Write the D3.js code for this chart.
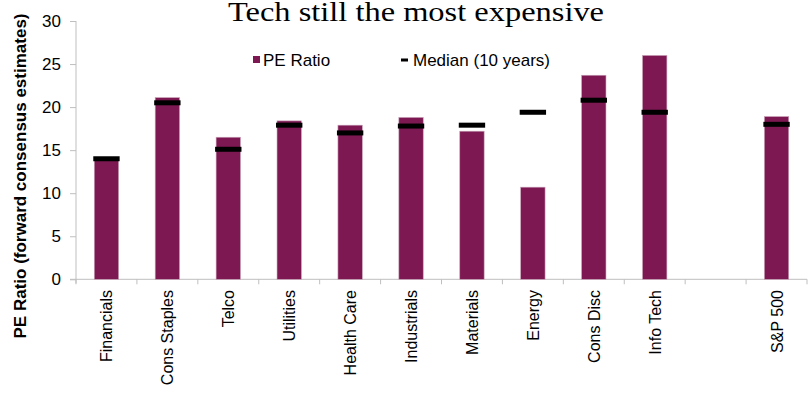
<!DOCTYPE html>
<html>
<head>
<meta charset="utf-8">
<script src="https://cdn.jsdelivr.net/npm/d3@7"></script>
<style>
  html, body { margin: 0; padding: 0; background: #fff; }
  svg { display: block; }
  text { font-family: "Liberation Sans", Arial, sans-serif; fill: #000; }
</style>
</head>
<body>
<svg id="chart" width="812" height="393"></svg>
<script>
// Sectors (one empty slot separates the index from the sectors)
const categories = ["Financials", "Cons Staples", "Telco", "Utilities", "Health Care",
  "Industrials", "Materials", "Energy", "Cons Disc", "Info Tech", "", "S&P 500"];
// Forward PE ratio
const peRatio = [13.8, 21.1, 16.5, 18.4, 17.9, 18.8, 17.2, 10.7, 23.7, 26.0, null, 18.9];
// 10-year median PE
const median10y = [14.0, 20.5, 15.1, 17.9, 17.0, 17.8, 17.9, 19.4, 20.8, 19.4, null, 18.0];
const yTicks = [0, 5, 10, 15, 20, 25, 30];

const title = "Tech still the most expensive";
const yLabel = "PE Ratio (forward consensus estimates)";
const legendLabels = ["PE Ratio", "Median (10 years)"];

const barColor = "#7E1852";
const axisColor = "#BFBFBF";

const svg = d3.select("#chart");
const plotLeft = 76, plotRight = 807, plotTop = 21, plotBottom = 279.3;

const keys = categories.map((c, i) => i);
const x = d3.scaleBand().domain(keys).range([plotLeft, plotRight])
  .paddingInner(0.6).paddingOuter(0.3);
const y = d3.scaleLinear().domain([0, 30]).range([plotBottom, plotTop]);

// Title
svg.append("text")
  .attr("x", 416).attr("y", 21)
  .attr("text-anchor", "middle")
  .attr("textLength", 376).attr("lengthAdjust", "spacingAndGlyphs")
  .style("font-family", "'Liberation Serif', 'DejaVu Serif', serif")
  .style("font-size", "27px")
  .text(title);

// Y axis
const yAxis = svg.append("g").attr("transform", `translate(${plotLeft},0)`)
  .call(d3.axisLeft(y).tickValues(yTicks).tickSize(6).tickPadding(9).tickSizeOuter(0));
yAxis.select(".domain").remove();
yAxis.selectAll(".tick line").attr("stroke", axisColor);
yAxis.selectAll(".tick text").style("font-size", "17px")
  .style("font-family", "'Liberation Sans', Arial, sans-serif").attr("fill", "#000");
svg.append("line")
  .attr("x1", plotLeft).attr("x2", plotLeft)
  .attr("y1", y(30)).attr("y2", plotBottom + 4)
  .attr("stroke", axisColor);

// X axis line and slot boundary ticks
svg.append("line")
  .attr("x1", plotLeft - 6).attr("x2", plotRight)
  .attr("y1", plotBottom).attr("y2", plotBottom)
  .attr("stroke", axisColor);
const step = x.step();
const bounds = keys.map(k => x(k) - step * x.paddingOuter()).concat([plotRight]);
svg.append("g").selectAll("line").data(bounds).join("line")
  .attr("x1", d => d).attr("x2", d => d)
  .attr("y1", plotBottom).attr("y2", plotBottom + 5)
  .attr("stroke", axisColor);

// Bars
svg.append("g").selectAll("rect")
  .data(keys.filter(k => peRatio[k] != null)).join("rect")
  .attr("x", k => x(k))
  .attr("y", k => y(peRatio[k]))
  .attr("width", x.bandwidth())
  .attr("height", k => y(0) - y(peRatio[k]))
  .attr("fill", barColor)
  .attr("stroke", "#C8A2B8").attr("stroke-width", 0.6);

// Median markers
const medH = 5;
svg.append("g").selectAll("rect")
  .data(keys.filter(k => median10y[k] != null)).join("rect")
  .attr("x", k => x(k) - 1)
  .attr("y", k => y(median10y[k]) - medH / 2)
  .attr("width", x.bandwidth() + 2)
  .attr("height", medH)
  .attr("fill", "#000");

// Category labels
svg.append("g").selectAll("text")
  .data(keys).join("text")
  .attr("transform", k => `translate(${x(k) + x.bandwidth() / 2 + 6},290) rotate(-90)`)
  .attr("text-anchor", "end")
  .style("font-size", "16px")
  .text(k => categories[k]);

// Y axis title
svg.append("text")
  .attr("transform", "translate(26,176) rotate(-90)")
  .attr("text-anchor", "middle")
  .style("font-size", "17px").style("font-weight", "bold")
  .text(yLabel);

// Legend
const lg = svg.append("g");
lg.append("rect").attr("x", 253).attr("y", 56).attr("width", 7).attr("height", 7).attr("fill", barColor);
lg.append("text").attr("x", 263).attr("y", 66).style("font-size", "17px").text(legendLabels[0]);
lg.append("rect").attr("x", 401).attr("y", 58.5).attr("width", 7).attr("height", 3).attr("fill", "#000");
lg.append("text").attr("x", 413).attr("y", 66).style("font-size", "17px").text(legendLabels[1]);
</script>
</body>
</html>
